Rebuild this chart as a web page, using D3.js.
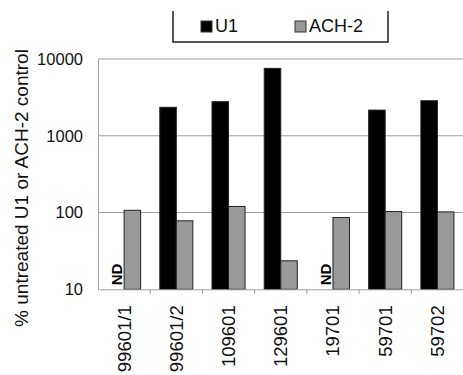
<!DOCTYPE html>
<html>
<head>
<meta charset="utf-8">
<script src="https://cdn.jsdelivr.net/npm/d3@7"></script>
<style>
  body { margin: 0; background: #fff; }
  text { font-family: "Liberation Sans", Arial, sans-serif; }
</style>
</head>
<body>
<script>
var width = 463;
var height = 375;

// data (null = ND, not determined)
var categories = ["99601/1", "99601/2", "109601", "129601", "19701", "59701", "59702"];
var series = ["U1", "ACH-2"];
var u1 = [null, 2350, 2780, 7550, null, 2160, 2860];
var ach2 = [107, 78, 120, 23.5, 86, 103, 102];
var yTicks = [10, 100, 1000, 10000];
var colors = { "U1": "#000000", "ACH-2": "#999999" };

var svg = d3.select("body").append("svg")
  .attr("width", width).attr("height", height);

var x = d3.scaleBand().domain(categories).range([98, 463.5]).padding(0);
var xs = d3.scaleBand().domain(series).range([0, x.bandwidth()])
  .paddingInner(0).paddingOuter(0.58);
var y = d3.scaleLog().domain([10, 10000]).range([289.3, 59]);

// gridlines
svg.append("g").selectAll("line").data(yTicks.slice(1)).enter().append("line")
  .attr("x1", 98).attr("x2", width)
  .attr("y1", d => y(d)).attr("y2", d => y(d))
  .style("stroke", "#a0a0a0").style("stroke-width", 1);

// y axis
var yAxis = svg.append("g").attr("transform", "translate(98,0)")
  .call(d3.axisLeft(y).tickValues(yTicks).tickFormat(d3.format("d")).tickSize(0).tickPadding(15));
yAxis.select(".domain").style("stroke", "#a0a0a0");
yAxis.selectAll("text").style("font-size", "16.5px").style("fill", "#111");

// bars
var rows = categories.map(function (c, i) {
  return { cat: c, vals: [{ s: "U1", v: u1[i] }, { s: "ACH-2", v: ach2[i] }] };
});

var g = svg.append("g").selectAll("g").data(rows).enter().append("g")
  .attr("transform", d => "translate(" + x(d.cat) + ",0)");

g.selectAll("rect").data(d => d.vals.filter(v => v.v !== null)).enter().append("rect")
  .attr("x", d => xs(d.s))
  .attr("width", xs.bandwidth())
  .attr("y", d => y(d.v))
  .attr("height", d => y(10) - y(d.v))
  .style("fill", d => colors[d.s])
  .style("stroke", "#222")
  .style("stroke-width", 1);

// ND labels
g.filter(d => d.vals[0].v === null).append("text")
  .attr("transform", "translate(" + (xs("U1") + xs.bandwidth() / 2 + 6) + "," + (y(10) - 4) + ") rotate(-90)")
  .style("font-size", "15px").style("font-weight", "bold")
  .text("ND");

// x axis
var xAxis = svg.append("g").attr("transform", "translate(0," + y(10) + ")")
  .call(d3.axisBottom(x).tickSize(0).tickPadding(0));
xAxis.select(".domain").style("stroke", "#a0a0a0");
xAxis.selectAll(".tick text")
  .attr("transform", "translate(0,16) rotate(-90)")
  .attr("text-anchor", "end")
  .attr("dy", "0.35em")
  .attr("y", 0)
  .style("font-size", "18.5px").style("fill", "#111");
// separators between categories
svg.append("g").selectAll("line").data(categories.slice(1)).enter().append("line")
  .attr("x1", d => x(d)).attr("x2", d => x(d))
  .attr("y1", y(10)).attr("y2", y(10) + 5)
  .style("stroke", "#a0a0a0");

// y label
svg.append("text")
  .attr("transform", "translate(28,188) rotate(-90)")
  .attr("text-anchor", "middle")
  .style("font-size", "19px").style("fill", "#111")
  .text("% untreated U1 or ACH-2 control");

// legend
var legend = svg.append("g");
legend.append("path")
  .attr("d", "M173,11V42H388V11")
  .style("fill", "none").style("stroke", "#222").style("stroke-width", 1.5);
var legendX = d3.scaleOrdinal().domain(series).range([201, 295]);
var li = legend.selectAll("g").data(series).enter().append("g")
  .attr("transform", d => "translate(" + legendX(d) + ",21)");
li.append("rect").attr("width", 11).attr("height", 11)
  .style("fill", d => colors[d]).style("stroke", "#333");
li.append("text").attr("x", 14).attr("y", 11)
  .style("font-size", "18px").style("fill", "#111")
  .text(d => d);
</script>
</body>
</html>
